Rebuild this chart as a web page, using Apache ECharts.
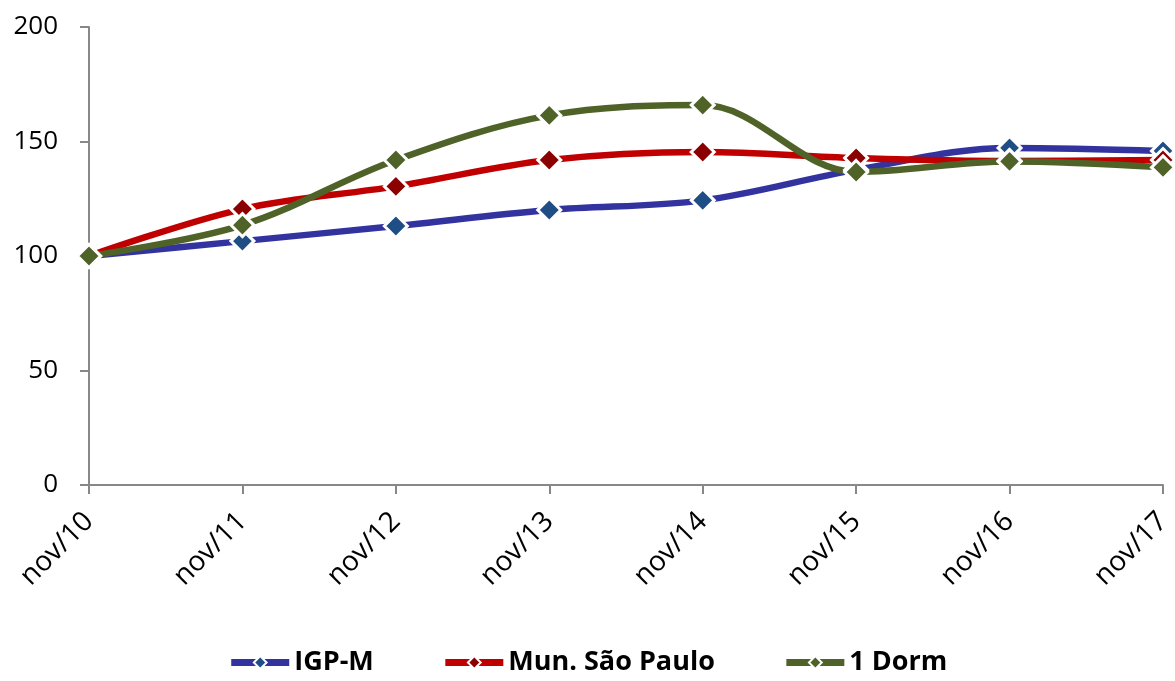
<!DOCTYPE html>
<html><head><meta charset="utf-8">
<script src="https://cdn.jsdelivr.net/npm/echarts@6/dist/echarts.min.js"></script>
<style>html,body{margin:0;padding:0;background:#fff}#c{width:1175px;height:681px}</style>
</head><body><div id="c"></div>
<script>
const categories = ['nov/10','nov/11','nov/12','nov/13','nov/14','nov/15','nov/16','nov/17'];
const igpm = [100, 106.5, 113.1, 120.1, 124.3, 137.6, 147.2, 145.9];
const munSP = [100, 120.5, 130.4, 141.9, 145.4, 142.8, 141.5, 141.9];
const dorm1 = [100, 113.5, 141.9, 161.4, 165.9, 136.7, 141.3, 138.7];
const seriesNames = ['IGP-M','Mun. São Paulo','1 Dorm'];
const font = '"Open Sans", Lato, sans-serif';
function mk(name, data, lineColor, markColor){
  return {name, type:'line', data, smooth:0.35, symbol:'diamond', symbolSize:23,
    lineStyle:{color:lineColor, width:6.5},
    itemStyle:{color:markColor, borderColor:'#fff', borderWidth:3},
    color:lineColor, z:2};
}
const chart = echarts.init(document.getElementById('c'));
chart.setOption({
  animation:false,
  grid:{left:89, right:12, top:27, bottom:196},
  legend:{bottom:0, left:'center', itemGap:68, itemWidth:58, itemHeight:16,
    lineStyle:{width:7},
    textStyle:{fontFamily:font, fontWeight:'bold', fontSize:27, color:'#000'},
    data:seriesNames},
  xAxis:{type:'category', data:categories, boundaryGap:false,
    axisLine:{lineStyle:{color:'#888', width:2}},
    axisTick:{show:true, length:9, lineStyle:{color:'#888', width:2}},
    axisLabel:{rotate:45, fontFamily:font, fontSize:28, color:'#000', margin:32}},
  yAxis:{type:'value', min:0, max:200, interval:50,
    axisLine:{show:true, lineStyle:{color:'#888', width:2}},
    axisTick:{show:true, length:9, lineStyle:{color:'#888', width:2}},
    splitLine:{show:false},
    axisLabel:{fontFamily:font, fontSize:26, color:'#000', margin:31}},
  series:[
    mk(seriesNames[0], igpm, '#3333A0', '#1F4E85'),
    mk(seriesNames[1], munSP, '#C00000', '#8B0000'),
    mk(seriesNames[2], dorm1, '#4F6228', '#4F6228')
  ]
});
</script></body></html>
